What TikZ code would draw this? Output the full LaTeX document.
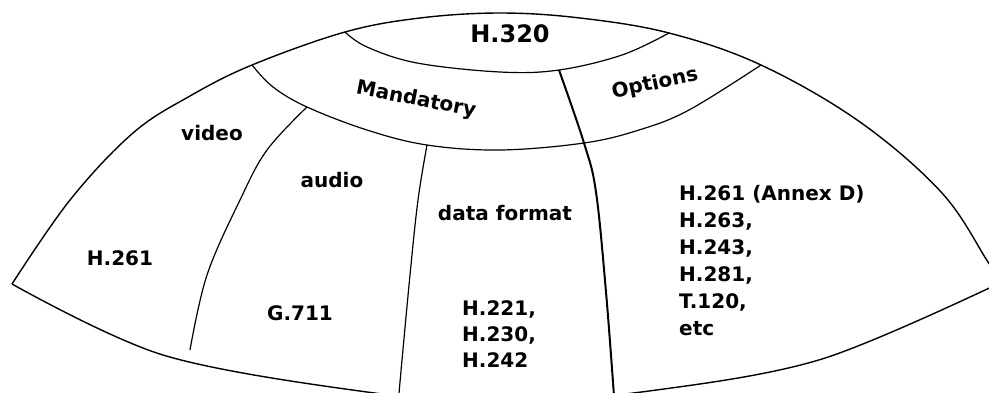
\documentclass[tikz,border=0pt]{standalone}
\usepackage{fontspec}
\setmainfont{DejaVu Sans}
\usetikzlibrary{positioning}

\begin{document}
\begin{tikzpicture}[
    x=1pt, y=-1pt,
    every node/.style={font=\bfseries\fontsize{20}{27}\selectfont, inner sep=0pt},
    rim/.style={line width=1.4pt, line join=round},
    divider/.style={line width=1.2pt},
    mainsplit/.style={line width=2pt},
    txt/.style={anchor=base},
    listing/.style={anchor=north west, align=left}
  ]
  \useasboundingbox (0,0) rectangle (989,392);
  \clip (0,0) rectangle (989,392);

  % junctions
  \coordinate (tipL) at (12,284);
  \coordinate (tipR) at (1002,282);
  \coordinate (bandL) at (252,65);
  \coordinate (capL) at (345,32);
  \coordinate (capR) at (669,33);
  \coordinate (bandR) at (761,65);
  \coordinate (va) at (307,107);
  \coordinate (ad) at (427,145);
  \coordinate (moTop) at (559,70);
  \coordinate (moMid) at (584,143);

  % outer rim and bottom edge
  \draw[rim] plot[smooth, tension=0.6] coordinates {(tipL) (70,200) (133,133) (190,96) (bandL) (capL) (420,18) (500,13) (580,18) (capR) (bandR) (860,122) (942,193) (988,262) (tipR)};
  \draw[rim] plot[smooth, tension=0.55] coordinates {(tipL) (163,355) (367,392) (505,402) (649,391) (822,359) (tipR)};

  % H.320 cap and the band below it
  \draw[divider] plot[smooth, tension=0.6] coordinates {(capL) (367,47) (417,63) (500,72) (moTop) (622,55) (capR)};
  \draw[divider] plot[smooth, tension=0.6] coordinates {(bandL) (273,87) (va) (367,130) (ad) (500,150) (moMid) (639,130) (689,110) (bandR)};

  % sectors
  \draw[divider] plot[smooth, tension=0.6] coordinates {(va) (267,150) (240,200) (207,275) (190,350)};
  \draw[divider] plot[smooth, tension=0.6] coordinates {(ad) (418,200) (410,275) (400,382) (399,396)};
  \draw[mainsplit] plot[smooth, tension=0.6] coordinates {(moTop) (moMid) (596,192) (606,292) (614,396)};

  % labels
  \node[txt, font=\bfseries\fontsize{24}{28}\selectfont] (h320) at (510,42) {H.320};
  \node[rotate=-11] (mandatory) at (416,100) {Mandatory};
  \node[rotate=12] (options) at (655,84) {Options};
  \node[txt] (video) at (212,140) {video};
  \node[txt] (audio) at (332,187) {audio};
  \node[txt] (dataformat) at (505,220) {data format};
  \node[txt] (videostd) at (120,265) {H.261};
  \node[txt] (audiostd) at (300,320) {G.711};
  \node[listing, font=\bfseries\fontsize{20}{26}\selectfont] (datastd) at (462,300) {H.221,\\H.230,\\H.242};
  \node[listing] (optionstd) at (679,185) {H.261 (Annex D)\\H.263,\\H.243,\\H.281,\\T.120,\\etc};
\end{tikzpicture}
\end{document}
